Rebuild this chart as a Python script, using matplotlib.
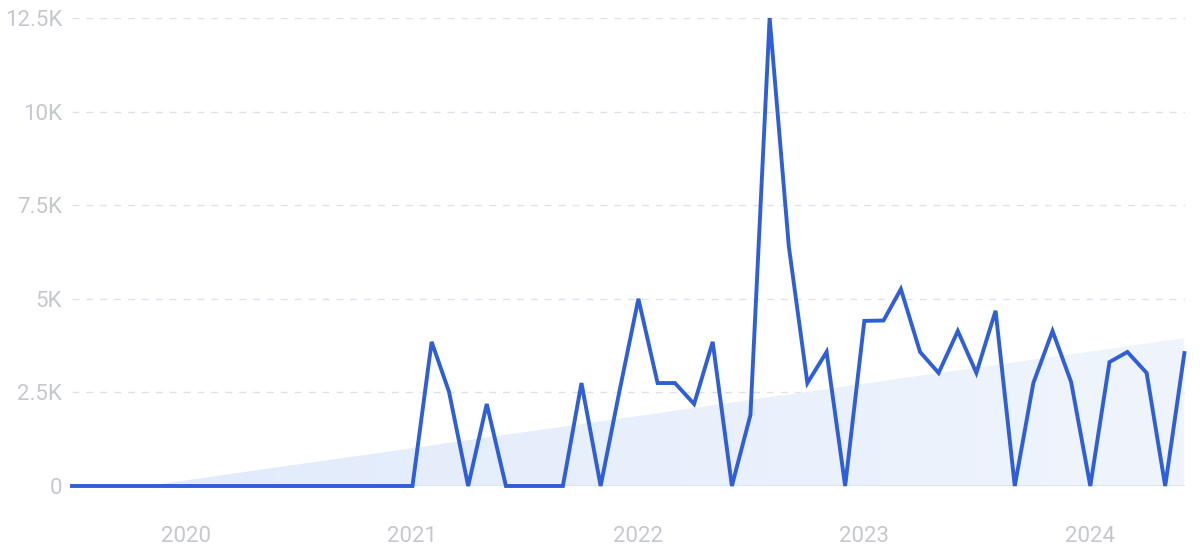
import matplotlib
matplotlib.use("Agg")
import matplotlib.pyplot as plt
import matplotlib.dates as mdates
from matplotlib.colors import LinearSegmentedColormap
import numpy as np
import pandas as pd

# ---- data ----
months = pd.date_range("2019-07-01", "2024-06-01", freq="MS")
values = [0, 0, 0, 0, 0, 0,                      # Jul-Dec 2019
          0, 0, 0, 0, 0, 0, 0, 0, 0, 0, 0, 0,    # 2020
          0, 3850, 2520, 0, 2190, 0, 0, 0, 0, 2750, 0, 2500,   # 2021
          5000, 2750, 2750, 2190, 3850, 0, 1900, 12500, 6400, 2750, 3580, 0,  # 2022
          4410, 4420, 5260, 3580, 3020, 4140, 3020, 4680, 0, 2750, 4140, 2780,  # 2023
          0, 3310, 3580, 3020, 0, 3550]          # 2024
trend_start = -280   # trend value at first month
trend_end = 3950     # trend value at last month
y_ticks = [0, 2500, 5000, 7500, 10000, 12500]
y_labels = ["0", "2.5K", "5K", "7.5K", "10K", "12.5K"]
x_ticks = ["2020-01-01", "2021-01-01", "2022-01-01", "2023-01-01", "2024-01-01"]
x_labels = ["2020", "2021", "2022", "2023", "2024"]

plt.rcParams['font.family'] = ['Roboto', 'DejaVu Sans']

fig = plt.figure(figsize=(12, 5.51), dpi=100)
ax = fig.add_axes([72/1200, (551-486)/551, (1185-72)/1200, 468/551])

x = mdates.date2num(months.to_pydatetime())
trend = np.linspace(trend_start, trend_end, len(x))
trend_c = np.clip(trend, 0, None)

# gradient-filled trend area
poly = ax.fill_between(x, 0, trend_c, color='none', lw=0)
xmin, xmax = x[0], x[-1] + 1
grad = np.linspace(0, 1, 256).reshape(1, -1)
cmap = LinearSegmentedColormap.from_list('g', ['#e0eafb', '#f0f5fd'])
im = ax.imshow(grad, cmap=cmap, aspect='auto', extent=[xmin, xmax, 0, 12500],
               origin='lower', zorder=1)
path = poly.get_paths()[0]
im.set_clip_path(path, transform=ax.transData)

# grid
for yt in y_ticks[1:]:
    ax.axhline(yt, color='#dde3ee', lw=1.0, ls=(0, (5, 5)), zorder=0)
ax.axhline(0, color='#d8e2f2', lw=1.2, zorder=2)

ax.plot(x, values, color='#2f5fd8', lw=2.8, zorder=3, clip_on=False,
        solid_joinstyle='miter')

ax.set_xlim(x[0], x[-1] + 1)
ax.set_ylim(0, 12500)
ax.set_yticks(y_ticks)
ax.set_yticklabels(y_labels)
ax.set_xticks(mdates.date2num(pd.to_datetime(x_ticks).to_pydatetime()))
ax.set_xticklabels(x_labels)
ax.tick_params(axis='both', length=0, colors='#c6c8cf', labelsize=16)
ax.tick_params(axis='y', pad=7)
ax.tick_params(axis='x', pad=29)
for s in ax.spines.values():
    s.set_visible(False)
ax.set_facecolor('white')

fig.savefig("out.png", dpi=100, facecolor='white')
